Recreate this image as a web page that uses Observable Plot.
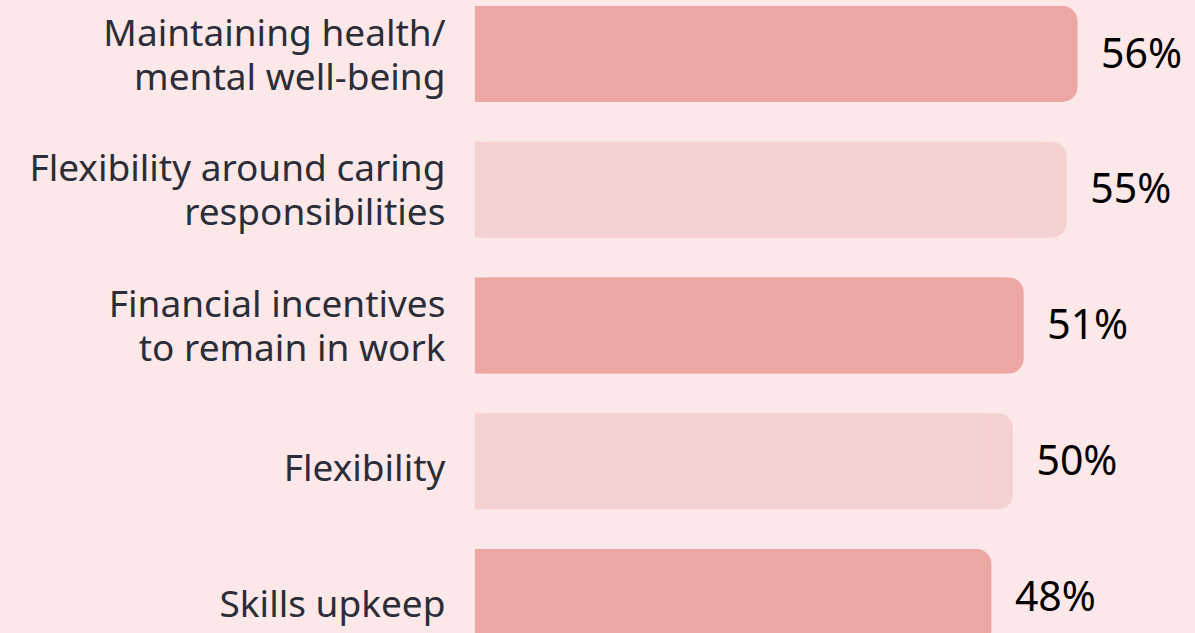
<!DOCTYPE html>
<html>
<head>
<meta charset="utf-8">
<script src="https://cdn.jsdelivr.net/npm/d3@7"></script>
<script src="https://cdn.jsdelivr.net/npm/@observablehq/plot@0.6"></script>
<style>
  html, body { margin: 0; padding: 0; background: #fce8e8; overflow: hidden; }
  #chart svg { display: block; }
</style>
</head>
<body>
<div id="chart"></div>
<script>
const categories = [
  "Maintaining health/\nmental well-being",
  "Flexibility around caring\nresponsibilities",
  "Financial incentives\nto remain in work",
  "Flexibility",
  "Skills upkeep"
];
const values = [56, 55, 51, 50, 48];

const data = categories.map((c, i) => ({category: c, value: values[i], idx: i}));
const fillFor = d => (d.idx % 2 === 0 ? "#eca6a4" : "#f6d1d1");
const isMulti = d => d.category.includes("\n");

const labelOpts = {
  x: 0, y: "category", text: "category", dx: -30, textAnchor: "end",
  fontSize: 37, lineHeight: 1.19, fill: "#2b2d38"
};

const chart = Plot.plot({
  width: 1195,
  height: 633,
  marginLeft: 0,
  marginRight: 0,
  marginTop: 0,
  marginBottom: 0,
  style: {background: "#fce8e8", fontFamily: "'Noto Sans', sans-serif"},
  x: {domain: [-44.14, 66.92], range: [0, 1195], axis: null},
  y: {domain: categories, range: [6, 645], paddingInner: 0.293, paddingOuter: 0, round: false, axis: null},
  marks: [
    Plot.barX(data, {x1: 0, x2: "value", y: "category", fill: fillFor, rx: 15, ry: 15}),
    Plot.barX(data, {x1: 0, x2: d => d.value - 2, y: "category", fill: fillFor}),
    Plot.text(data, {...labelOpts, filter: isMulti, dy: -1}),
    Plot.text(data, {...labelOpts, filter: d => !isMulti(d), dy: 5}),
    Plot.text(data, {
      x: "value", y: "category", text: d => d.value + "%", dx: 23, textAnchor: "start",
      fontSize: 41, fill: "#000000"
    })
  ]
});
document.getElementById("chart").appendChild(chart);
</script>
</body>
</html>
